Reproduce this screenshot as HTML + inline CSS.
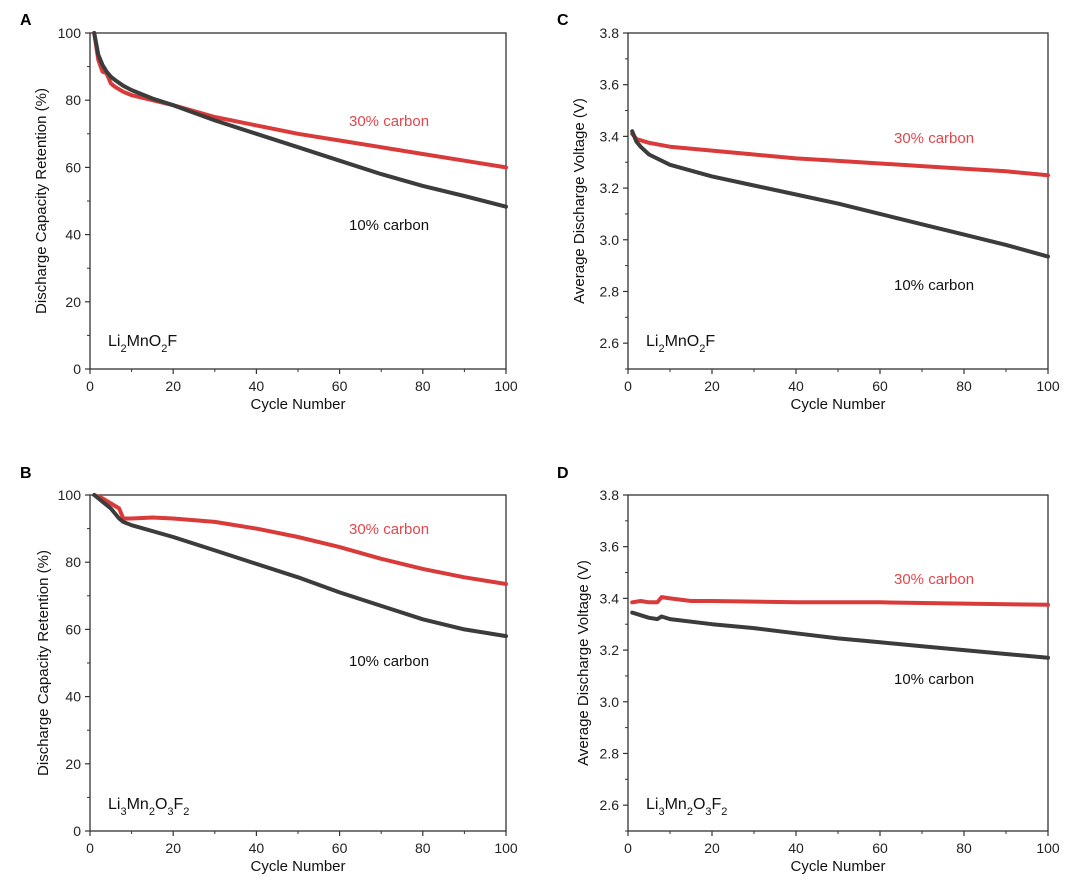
<!DOCTYPE html>
<html><head><meta charset="utf-8">
<style>
body{margin:0;background:#fff;}
svg{display:block;font-family:"Liberation Sans",Arial,sans-serif;}
</style></head>
<body>
<svg id="fig" width="1080" height="893" viewBox="0 0 1080 893" xmlns="http://www.w3.org/2000/svg"></svg>
<script>
// Panel A data (capacity retention, Li2MnO2F)
const cyclesA10 = [1,2,3,4,5,6,8,10,15,20,30,40,50,60,70,80,90,100];
const retA10    = [100,93.5,90.5,88.5,87,86,84.3,83,80.5,78.5,74,70,66,62,58,54.5,51.5,48.3];
const cyclesA30 = [1,2,3,4,5,6,8,10,15,20,30,40,50,60,70,80,90,100];
const retA30    = [100,92,88.5,88,85,84,82.5,81.5,80,78.5,75,72.5,70,68,66,64,62,60];
// Panel C data (voltage, Li2MnO2F)
const cyclesC10 = [1,2,3,5,10,20,30,40,50,60,70,80,90,100];
const voltC10   = [3.42,3.38,3.36,3.33,3.29,3.245,3.21,3.175,3.14,3.10,3.06,3.02,2.98,2.935];
const cyclesC30 = [1,2,5,10,20,30,40,50,60,70,80,90,100];
const voltC30   = [3.41,3.39,3.375,3.36,3.345,3.33,3.315,3.305,3.295,3.285,3.275,3.265,3.25];
// Panel B data (capacity retention, Li3Mn2O3F2)
const cyclesB10 = [1,3,5,7,8,10,20,30,40,50,60,70,80,90,100];
const retB10    = [100,98,96,93,92,91,87.5,83.5,79.5,75.5,71,67,63,60,58];
const cyclesB30 = [1,3,5,7,8,10,15,20,30,40,50,60,70,80,90,100];
const retB30    = [100,99,97.5,96,93,93,93.3,93,92,90,87.5,84.5,81,78,75.5,73.5];
// Panel D data (voltage, Li3Mn2O3F2)
const cyclesD10 = [1,3,5,7,8,10,20,30,40,50,60,70,80,90,100];
const voltD10   = [3.345,3.335,3.325,3.32,3.33,3.32,3.30,3.285,3.265,3.245,3.23,3.215,3.20,3.185,3.17];
const cyclesD30 = [1,3,5,7,8,10,15,20,40,60,80,100];
const voltD30   = [3.385,3.39,3.385,3.385,3.405,3.40,3.39,3.39,3.385,3.385,3.38,3.375];
const xTicks = [0,20,40,60,80,100];
const capTicks = [0,20,40,60,80,100];
const voltTicks = [2.6,2.8,3.0,3.2,3.4,3.6,3.8];

const NS="http://www.w3.org/2000/svg";
const svg=document.getElementById('fig');
function mk(tag,attrs,parent){const e=document.createElementNS(NS,tag);for(const k in attrs)e.setAttribute(k,attrs[k]);(parent||svg).appendChild(e);return e;}

function panel(o){
  const g=mk('g',{});
  
  
  const sx=v=>o.x0+(v-0)/100*(o.x1-o.x0);
  const sy=v=>o.yb+(v-o.ymin)/(o.ymax-o.ymin)*(o.yt-o.yb);
  // box
  const box=mk('rect',{x:o.x0,y:o.yt,width:o.x1-o.x0,height:o.yb-o.yt,fill:'none',stroke:'#333','stroke-width':1.3},g);
  
  
  // x ticks
  for(let i=0;i<xTicks.length;i++){
    const v=xTicks[i];
    mk('line',{x1:sx(v),x2:sx(v),y1:o.yb,y2:o.yb+5,stroke:'#333','stroke-width':1.2},g);
    if(i<xTicks.length-1){const m=(v+xTicks[i+1])/2;mk('line',{x1:sx(m),x2:sx(m),y1:o.yb,y2:o.yb+3,stroke:'#333','stroke-width':1},g);}
    const t=mk('text',{x:sx(v),y:o.yb+22,'text-anchor':'middle','font-size':14,fill:'#222'},g);
    t.textContent=v;
    
    
  }
  // y ticks
  const yt=o.ticks;
  for(let i=0;i<yt.length;i++){
    const v=yt[i];
    mk('line',{x1:o.x0-5,x2:o.x0,y1:sy(v),y2:sy(v),stroke:'#333','stroke-width':1.2},g);
    const step=yt[1]-yt[0];
    const m=v+step/2; if(m<o.ymax) mk('line',{x1:o.x0-3,x2:o.x0,y1:sy(m),y2:sy(m),stroke:'#333','stroke-width':1},g);
    if(i==0 && v-step/2>=o.ymin-1e-9) mk('line',{x1:o.x0-3,x2:o.x0,y1:sy(v-step/2),y2:sy(v-step/2),stroke:'#333','stroke-width':1},g);
    const t=mk('text',{x:o.x0-9,y:sy(v)+5,'text-anchor':'end','font-size':14,fill:'#222'},g);
    t.textContent=o.fmt(v);
    
    
  }
  // series
  const series=[[o.c30,o.v30,'#d93a3a','series-30-carbon'],[o.c10,o.v10,'#3c3c3c','series-10-carbon']];
  for(const [cx,cy,col,nm] of series){
    const pts=cx.map((c,i)=>sx(c).toFixed(1)+','+sy(cy[i]).toFixed(1)).join(' ');
    const p=mk('polyline',{points:pts,fill:'none',stroke:col,'stroke-width':4,'stroke-linejoin':'round','stroke-linecap':'round'},g);
    
    
  }
  // labels
  const l30=mk('text',{x:o.l30[0],y:o.l30[1],'font-size':15,fill:'#e0474c'},g);
  l30.textContent='30% carbon';
  
  
  const l10=mk('text',{x:o.l10[0],y:o.l10[1],'font-size':15,fill:'#111'},g);
  l10.textContent='10% carbon';
  
  
  const f=mk('text',{x:o.x0+18,y:o.fy,'font-size':16,fill:'#111'},g);
  f.innerHTML=o.formula;
  
  
  const xt=mk('text',{x:(o.x0+o.x1)/2,y:o.yb+40,'text-anchor':'middle','font-size':15,fill:'#111'},g);
  xt.textContent='Cycle Number';
  
  
  const ytl=mk('text',{x:0,y:0,'text-anchor':'middle','font-size':15,fill:'#111',transform:`translate(${o.ytx},${(o.yt+o.yb)/2}) rotate(-90)`},g);
  ytl.textContent=o.ytitle;
  
  
  const pl=mk('text',{x:o.letter[0],y:o.letter[1],'font-size':16,'font-weight':'bold',fill:'#000'},g);
  pl.textContent=o.letterT;
  
  
}
const cap=v=>String(v), volt=v=>v.toFixed(1);
const sub=(s)=>`<tspan baseline-shift="sub" font-size="11">${s}</tspan>`;
panel({name:'panel-a',x0:90,x1:506,yt:33,yb:369,ymin:0,ymax:100,ticks:capTicks,fmt:cap,c10:cyclesA10,v10:retA10,c30:cyclesA30,v30:retA30,
  l30:[349,126],l10:[349,230],fy:346,formula:'Li'+sub('2')+'MnO'+sub('2')+'F',ytx:46,ytitle:'Discharge Capacity Retention (%)',letter:[20,25],letterT:'A'});
panel({name:'panel-c',x0:628,x1:1048,yt:33,yb:369,ymin:2.5,ymax:3.8,ticks:voltTicks,fmt:volt,c10:cyclesC10,v10:voltC10,c30:cyclesC30,v30:voltC30,
  l30:[894,143],l10:[894,290],fy:346,formula:'Li'+sub('2')+'MnO'+sub('2')+'F',ytx:584,ytitle:'Average Discharge Voltage (V)',letter:[557,25],letterT:'C'});
panel({name:'panel-b',x0:90,x1:506,yt:495,yb:831,ymin:0,ymax:100,ticks:capTicks,fmt:cap,c10:cyclesB10,v10:retB10,c30:cyclesB30,v30:retB30,
  l30:[349,534],l10:[349,666],fy:809,formula:'Li'+sub('3')+'Mn'+sub('2')+'O'+sub('3')+'F'+sub('2'),ytx:48,ytitle:'Discharge Capacity Retention (%)',letter:[20,478],letterT:'B'});
panel({name:'panel-d',x0:628,x1:1048,yt:495,yb:831,ymin:2.5,ymax:3.8,ticks:voltTicks,fmt:volt,c10:cyclesD10,v10:voltD10,c30:cyclesD30,v30:voltD30,
  l30:[894,584],l10:[894,684],fy:809,formula:'Li'+sub('3')+'Mn'+sub('2')+'O'+sub('3')+'F'+sub('2'),ytx:588,ytitle:'Average Discharge Voltage (V)',letter:[557,478],letterT:'D'});
</script>
</body></html>
